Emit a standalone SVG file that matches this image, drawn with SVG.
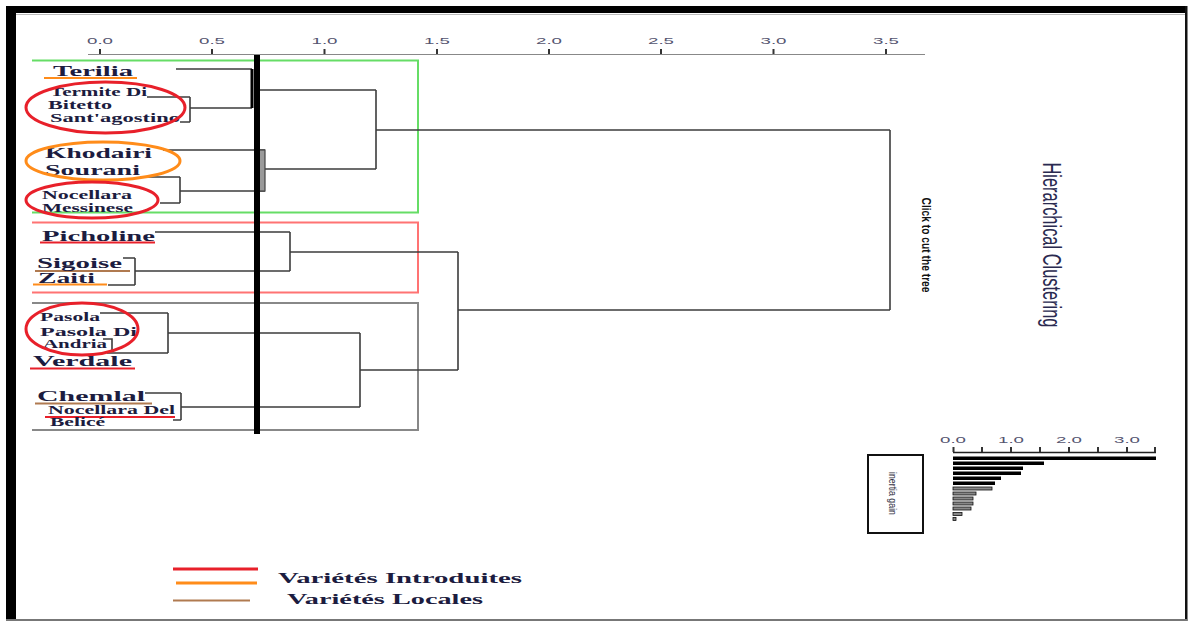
<svg xmlns="http://www.w3.org/2000/svg" width="1189" height="621" viewBox="0 0 1189 621">
<style>
.lbl{font-family:"Liberation Serif","Times New Roman",serif;font-weight:bold;fill:#1c1c40}
.ax{font-family:"Liberation Sans",Arial,sans-serif;font-size:9px;fill:#555570;text-anchor:middle}
.dg{fill:none;stroke:#3c3c3c;stroke-width:1.6}
.tick{stroke:#333;stroke-width:2}
.ell{fill:none;stroke-width:3}
</style>
<rect x="0" y="0" width="1189" height="621" fill="#ffffff"/>
<g id="frame">
<rect x="6" y="6" width="1181" height="7" fill="#000"/>
<rect x="6" y="6" width="10" height="615" fill="#000"/>
<rect x="1185" y="6" width="2.5" height="615" fill="#111"/>
<rect x="6" y="619" width="1181" height="2" fill="#777"/>
<line x1="16" y1="14.5" x2="1185" y2="14.5" stroke="#bbb" stroke-width="1"/>
</g>
<g id="axis">
<line x1="88" y1="54.5" x2="925" y2="54.5" stroke="#888" stroke-width="1.2"/>
<g class="tick">
<line x1="100" y1="49" x2="100" y2="54"/><line x1="212" y1="49" x2="212" y2="54"/>
<line x1="324.5" y1="49" x2="324.5" y2="54"/><line x1="437" y1="49" x2="437" y2="54"/>
<line x1="549" y1="49" x2="549" y2="54"/><line x1="661" y1="49" x2="661" y2="54"/>
<line x1="773.5" y1="49" x2="773.5" y2="54"/><line x1="886" y1="49" x2="886" y2="54"/>
</g>
<text class="ax" x="100" y="44" textLength="26" lengthAdjust="spacingAndGlyphs">0.0</text>
<text class="ax" x="212" y="44" textLength="26" lengthAdjust="spacingAndGlyphs">0.5</text>
<text class="ax" x="324.5" y="44" textLength="26" lengthAdjust="spacingAndGlyphs">1.0</text>
<text class="ax" x="437" y="44" textLength="26" lengthAdjust="spacingAndGlyphs">1.5</text>
<text class="ax" x="549" y="44" textLength="26" lengthAdjust="spacingAndGlyphs">2.0</text>
<text class="ax" x="661" y="44" textLength="26" lengthAdjust="spacingAndGlyphs">2.5</text>
<text class="ax" x="773.5" y="44" textLength="26" lengthAdjust="spacingAndGlyphs">3.0</text>
<text class="ax" x="886" y="44" textLength="26" lengthAdjust="spacingAndGlyphs">3.5</text>
</g>
<g id="clusters">
<path d="M32 60.5 H418 V212.5 H32" fill="none" stroke="#66dd66" stroke-width="2"/>
<path d="M32 222.5 H418 V292.5 H32" fill="none" stroke="#ff7373" stroke-width="2"/>
<path d="M32 303 H418 V430 H32" fill="none" stroke="#888" stroke-width="2"/>
</g>
<g id="connectors">
<path class="dg" d="M176 69 H252 M147 97 H190 M180 122 H190 M190 97 V122 M190 108 H252 M252 69 V108 M254 90 H376"/>
<path class="dg" d="M163 150 H265 M140 177 H180 M160 203 H180 M180 177 V203 M180 191 H265 M265 169 H376"/>
<rect x="258.5" y="150" width="6.5" height="41" fill="#9a9a9a" stroke="#444" stroke-width="1.2"/>
<path class="dg" d="M376 90 V169 M376 130 H890 M890 130 V310"/>
<path class="dg" d="M155 232 H290 M123 258 H135 M108 285 H135 M135 258 V285 M135 271 H290 M290 232 V271 M290 252 H458"/>
<path class="dg" d="M100 313 H168 M107 353 H168 M168 313 V353 M103 339 H112 V352 M168 333 H360"/>
<path class="dg" d="M145 393 H181 M173 420 H181 M181 393 V420 M181 407 H360 M360 333 V407 M360 370 H458 M458 252 V370 M458 310 H890"/>
<line x1="252" y1="69" x2="252" y2="108" stroke="#000" stroke-width="3"/>
<rect x="254" y="55" width="6" height="379" fill="#000"/>
</g>
<g id="leaf-terilia">
<line x1="44" y1="78" x2="137" y2="78" stroke="#ff8c1a" stroke-width="2"/>
<text class="lbl" x="53" y="76" font-size="15.5" textLength="80" lengthAdjust="spacingAndGlyphs">Terilia</text>
</g>
<g id="leaf-termite">
<text class="lbl" x="50" y="96" font-size="12.5" textLength="97" lengthAdjust="spacingAndGlyphs">Termite Di</text>
<text class="lbl" x="48" y="109" font-size="12.5" textLength="64" lengthAdjust="spacingAndGlyphs">Bitetto</text>
<text class="lbl" x="50" y="122" font-size="12.5" textLength="130" lengthAdjust="spacingAndGlyphs">Sant'agostino</text>
<ellipse class="ell" cx="105.5" cy="107.5" rx="79.5" ry="25.5" stroke="#e8202a"/>
</g>
<g id="leaf-khodairi">
<text class="lbl" x="45" y="158" font-size="15.5" textLength="107" lengthAdjust="spacingAndGlyphs">Khodairi</text>
<text class="lbl" x="45" y="175" font-size="15.5" textLength="95" lengthAdjust="spacingAndGlyphs">Sourani</text>
<ellipse class="ell" cx="103" cy="161" rx="77" ry="19" stroke="#ff8c1a"/>
</g>
<g id="leaf-nocellara-messinese">
<text class="lbl" x="42" y="199" font-size="12.5" textLength="90" lengthAdjust="spacingAndGlyphs">Nocellara</text>
<text class="lbl" x="42" y="212" font-size="12.5" textLength="91" lengthAdjust="spacingAndGlyphs">Messinese</text>
<ellipse class="ell" cx="92" cy="200" rx="66" ry="18" stroke="#e8202a"/>
</g>
<g id="leaf-picholine">
<line x1="40" y1="242.5" x2="155" y2="242.5" stroke="#e8202a" stroke-width="2"/>
<text class="lbl" x="42" y="241" font-size="15.5" textLength="113" lengthAdjust="spacingAndGlyphs">Picholine</text>
</g>
<g id="leaf-sigoise">
<line x1="35" y1="271" x2="130" y2="271" stroke="#b07a50" stroke-width="2"/>
<text class="lbl" x="37" y="268" font-size="15.5" textLength="85" lengthAdjust="spacingAndGlyphs">Sigoise</text>
</g>
<g id="leaf-zaiti">
<line x1="33" y1="284.5" x2="107" y2="284.5" stroke="#ff8c1a" stroke-width="2"/>
<text class="lbl" x="38" y="283" font-size="15.5" textLength="57" lengthAdjust="spacingAndGlyphs">Zaiti</text>
</g>
<g id="leaf-pasola">
<text class="lbl" x="40" y="321" font-size="12" textLength="60" lengthAdjust="spacingAndGlyphs">Pasola</text>
<text class="lbl" x="40" y="336" font-size="12" textLength="97" lengthAdjust="spacingAndGlyphs">Pasola Di</text>
<text class="lbl" x="43" y="348" font-size="12" textLength="64" lengthAdjust="spacingAndGlyphs">Andria</text>
<ellipse class="ell" cx="82" cy="329" rx="56" ry="26" stroke="#e8202a"/>
</g>
<g id="leaf-verdale">
<line x1="30" y1="368.5" x2="135" y2="368.5" stroke="#e8202a" stroke-width="2"/>
<text class="lbl" x="33" y="366" font-size="15.5" textLength="99" lengthAdjust="spacingAndGlyphs">Verdale</text>
</g>
<g id="leaf-chemlal">
<line x1="35" y1="403.5" x2="152" y2="403.5" stroke="#b07a50" stroke-width="2"/>
<text class="lbl" x="37" y="401" font-size="15.5" textLength="108" lengthAdjust="spacingAndGlyphs">Chemlal</text>
</g>
<g id="leaf-nocellara-del-belice">
<line x1="45" y1="417" x2="175" y2="417" stroke="#e8202a" stroke-width="2"/>
<text class="lbl" x="48" y="414" font-size="13" textLength="127" lengthAdjust="spacingAndGlyphs">Nocellara Del</text>
<text class="lbl" x="50" y="426" font-size="12" textLength="55" lengthAdjust="spacingAndGlyphs">Belicé</text>
</g>
<g id="cut-label">
<text transform="translate(922,245) rotate(90)" x="0" y="0" text-anchor="middle" font-family="'Liberation Sans Narrow','Liberation Sans',Arial,sans-serif" font-size="13" font-weight="bold" fill="#111" textLength="95" lengthAdjust="spacingAndGlyphs">Click to cut the tree</text>
</g>
<g id="title">
<text transform="translate(1043,245) rotate(90)" x="0" y="0" text-anchor="middle" font-family="'Liberation Sans Narrow','Liberation Sans',Arial,sans-serif" font-size="26" fill="#2a2a50" textLength="165" lengthAdjust="spacingAndGlyphs">Hierarchical Clustering</text>
</g>
<g id="inertia-gain">
<rect x="868" y="455" width="55" height="78" fill="#fff" stroke="#111" stroke-width="2"/>
<text transform="translate(889,493.5) rotate(90)" x="0" y="0" text-anchor="middle" font-family="'Liberation Sans Narrow','Liberation Sans',Arial,sans-serif" font-size="11" fill="#334" textLength="43" lengthAdjust="spacingAndGlyphs">inertia gain</text>
</g>
<g id="bar-chart">
<text class="ax" x="953" y="443" textLength="26" lengthAdjust="spacingAndGlyphs">0.0</text>
<text class="ax" x="1011" y="443" textLength="26" lengthAdjust="spacingAndGlyphs">1.0</text>
<text class="ax" x="1069" y="443" textLength="26" lengthAdjust="spacingAndGlyphs">2.0</text>
<text class="ax" x="1127" y="443" textLength="26" lengthAdjust="spacingAndGlyphs">3.0</text>
<line x1="953" y1="452.5" x2="1156" y2="452.5" stroke="#222" stroke-width="1.5"/>
<g class="tick">
<line x1="953.5" y1="447" x2="953.5" y2="452"/><line x1="982" y1="447" x2="982" y2="452"/>
<line x1="1011" y1="447" x2="1011" y2="452"/><line x1="1040" y1="447" x2="1040" y2="452"/>
<line x1="1069" y1="447" x2="1069" y2="452"/><line x1="1098" y1="447" x2="1098" y2="452"/>
<line x1="1127" y1="447" x2="1127" y2="452"/><line x1="1155" y1="447" x2="1155" y2="452"/>
</g>
<g fill="#000">
<rect x="953" y="456.5" width="203" height="3.5"/>
<rect x="953" y="461.5" width="91" height="3.5"/>
<rect x="953" y="466.5" width="70" height="3.5"/>
<rect x="953" y="471.5" width="68" height="3.5"/>
<rect x="953" y="476.5" width="48" height="3.5"/>
<rect x="953" y="481.5" width="42" height="3.5"/>
</g>
<g fill="#888" stroke="#111" stroke-width="0.8">
<rect x="953" y="487" width="39" height="3"/>
<rect x="953" y="492" width="23" height="3"/>
<rect x="953" y="497" width="20" height="3"/>
<rect x="953" y="502" width="20" height="3"/>
<rect x="953" y="507" width="18" height="3"/>
<rect x="953" y="512.5" width="9" height="3"/>
<rect x="953" y="517.5" width="3" height="3"/>
</g>
</g>
<g id="legend">
<line x1="173" y1="569" x2="258" y2="569" stroke="#e8202a" stroke-width="3"/>
<line x1="176" y1="583" x2="257" y2="583" stroke="#ff8c1a" stroke-width="3"/>
<line x1="173" y1="600.5" x2="250" y2="600.5" stroke="#b07a50" stroke-width="2"/>
<text class="lbl" x="278" y="583" font-size="14" textLength="244" lengthAdjust="spacingAndGlyphs">Variétés Introduites</text>
<text class="lbl" x="287" y="604" font-size="14" textLength="196" lengthAdjust="spacingAndGlyphs">Variétés Locales</text>
</g>
</svg>
